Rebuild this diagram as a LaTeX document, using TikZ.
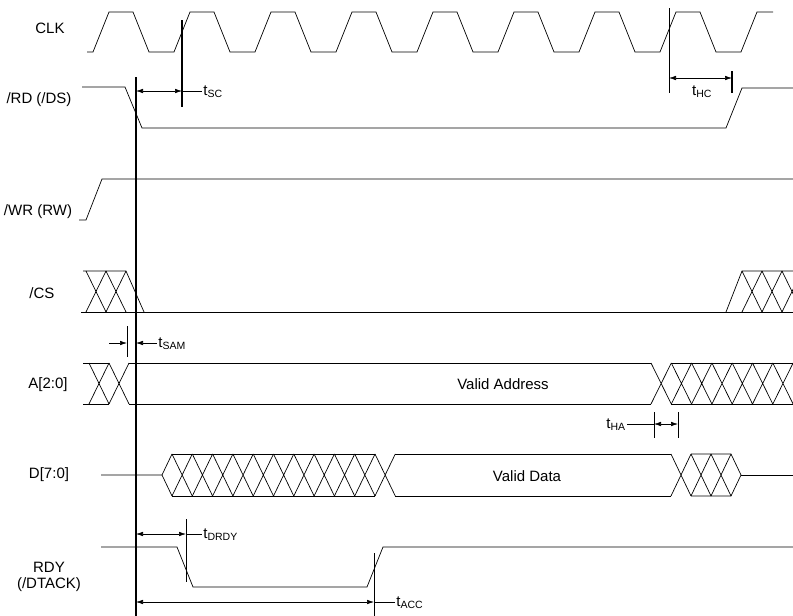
\documentclass[tikz,border=0pt]{standalone}
\usepackage{fontspec}
\setmainfont{Liberation Sans}
\usetikzlibrary{arrows.meta}

\begin{document}
\begin{tikzpicture}[x=1pt, y=-1pt, line width=0.7pt,
    dim/.style={{Latex[length=7pt,width=4.5pt]}-{Latex[length=7pt,width=4.5pt]}, line width=0.6pt},
    onetip/.style={-{Latex[length=7pt,width=4.5pt]}, line width=0.6pt},
    marker/.style={line width=1.1pt},
    signame/.style={font=\fontsize{15}{16.5}\selectfont, align=center},
    timing/.style={font=\fontsize{15}{16.5}\selectfont, inner sep=1pt}]
    \useasboundingbox (0,0) rectangle (793,616);
    \clip (0,0) rectangle (793,616);

    \node[signame] (clk) at (50,28) {CLK};
    \node[signame] (rd) at (39,100) {/RD (/DS)};
    \node[signame] (wr) at (38,212) {/WR (RW)};
    \node[signame] (cs) at (42,293) {/CS};
    \node[signame] (addr) at (48,385) {A[2:0]};
    \node[signame] (data) at (49,475) {D[7:0]};
    \node[signame] (rdy) at (49,577) {RDY\\(/DTACK)};

    \draw (87,52) -- (93,52)
        \foreach \k in {0,...,7} { -- ({109+81*\k},12) -- ({133+81*\k},12) -- ({149+81*\k},52) -- ({174+81*\k},52) }
        -- (757,12) -- (773,12);

    \draw (82,87) -- (125,87) -- (142,128) -- (726,128) -- (742,88) -- (793,88);

    \draw (79,220) -- (86,220) -- (102,179) -- (793,179);

    \draw (83,271) -- (126,271) -- (144,312);
    \draw (81,312) -- (793,312);
    \foreach \x in {86,106}
        \draw (\x,271) -- ({\x+20},312) (\x,312) -- ({\x+20},271);
    \draw (726,312) -- (742,271) -- (793,271);
    \foreach \x in {742,762,782}
        \draw (\x,271) -- ({\x+20},312) (\x,312) -- ({\x+20},271);

    \draw (83,363) -- (109,363) (83,404) -- (109,404);
    \foreach \x in {89,109}
        \draw (\x,363) -- ({\x+20},404) (\x,404) -- ({\x+20},363);
    \draw (129,363) -- (651,363) (129,404) -- (651,404);
    \foreach \k in {0,...,7}
        \draw ({651+20.3*\k},363) -- ({671.3+20.3*\k},404) ({651+20.3*\k},404) -- ({671.3+20.3*\k},363);
    \draw (671,363) -- (793,363) (671,404) -- (793,404);
    \node[timing] (vaddr) at (503,384) {Valid Address};

    \draw (101,475) -- (162,475) -- (172,454) (162,475) -- (172,496);
    \draw (172,454) -- (375,454) (172,496) -- (375,496);
    \foreach \k in {0,...,10}
        \draw ({172+20.3*\k},454) -- ({192.3+20.3*\k},496) ({172+20.3*\k},496) -- ({192.3+20.3*\k},454);
    \draw (395,454) -- (671,454) (395,496) -- (671,496);
    \foreach \x in {671,691,711}
        \draw (\x,454) -- ({\x+20},496) (\x,496) -- ({\x+20},454);
    \draw (691,454) -- (731,454) -- (741,475) -- (731,496) -- (691,496);
    \draw (741,475) -- (793,475);
    \node[timing] (vdata) at (527,476) {Valid Data};

    \draw (101,547) -- (177,547) -- (193,587) -- (367,587) -- (383,547) -- (793,547);

    \draw[line width=1.5pt] (136,77) -- (136,616);

    \draw[marker] (182,20) -- (182,107);
    \draw[dim] (136,91) -- (182,91);
    \node[timing, anchor=west] (tsc) at (202,92) {t\textsubscript{SC}};
    \draw (182,91) -- (202,91);

    \draw (669,8) -- (669,93);
    \draw[marker] (732,71) -- (732,93);
    \draw[dim] (669,78) -- (732,78);
    \node[timing] (thc) at (702,92) {t\textsubscript{HC}};

    \draw (127,326) -- (127,357);
    \draw[onetip] (109,343) -- (127,343);
    \node[timing, anchor=west] (tsam) at (157,344) {t\textsubscript{SAM}};
    \draw[onetip] (157,343) -- (136,343);

    \draw (654,412) -- (654,438) (678,412) -- (678,438);
    \draw[dim] (654,424) -- (678,424);
    \node[timing, anchor=east] (tha) at (627,425) {t\textsubscript{HA}};
    \draw (627,424) -- (654,424);

    \draw (186,519) -- (186,582);
    \draw[dim] (136,534) -- (186,534);
    \node[timing, anchor=west] (tdrdy) at (202,535) {t\textsubscript{DRDY}};
    \draw (186,534) -- (202,534);

    \draw (374,553) -- (374,616);
    \draw[dim] (136,602) -- (374,602);
    \node[timing, anchor=west] (tacc) at (395,603) {t\textsubscript{ACC}};
    \draw (374,602) -- (395,602);
\end{tikzpicture}
\end{document}
